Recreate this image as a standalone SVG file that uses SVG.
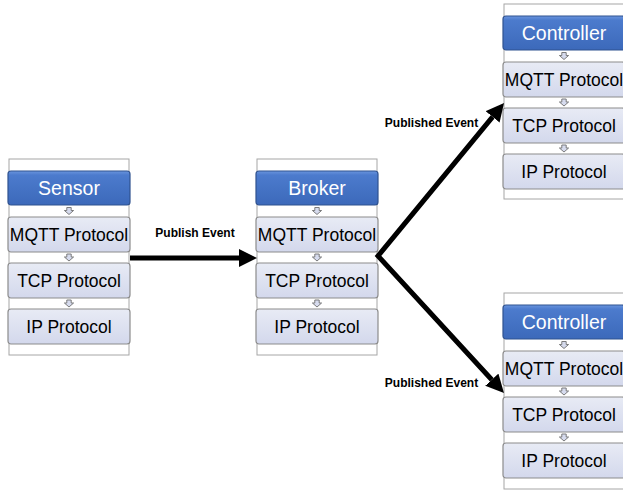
<svg xmlns="http://www.w3.org/2000/svg" width="623" height="492" viewBox="0 0 623 492">
<defs>
<linearGradient id="gBlue" x1="0" y1="0" x2="0" y2="1">
<stop offset="0" stop-color="#6A95DE"/>
<stop offset="0.12" stop-color="#4C7BCD"/>
<stop offset="1" stop-color="#3C69BA"/>
</linearGradient>
<linearGradient id="gLight" x1="0" y1="0" x2="0" y2="1">
<stop offset="0" stop-color="#E8EBF5"/>
<stop offset="1" stop-color="#D3D8EC"/>
</linearGradient>
<path id="mini" d="M-2.2,0 h4.4 v3 h2.4 l-4.6,4 l-4.6,-4 h2.4 z" fill="#D6DBEE" stroke="#6F6F6F" stroke-width="0.9"/>
<marker id="head" viewBox="0 0 10 10" refX="0" refY="5" markerWidth="3.6" markerHeight="3.6" markerUnits="strokeWidth" orient="auto-start-reverse">
<path d="M0,0 L10,5 L0,10 z" fill="#000"/>
</marker>
</defs>
<style>
.frame{fill:#FFFFFF;stroke:#A6A6A6;stroke-width:1}
.title{fill:url(#gBlue);stroke:#2F528F;stroke-width:1.2}
.proto{fill:url(#gLight);stroke:#8C8C8C;stroke-width:1.2}
.tt{font-family:"Liberation Sans",Arial,sans-serif;font-size:19.5px;fill:#FFFFFF;text-anchor:middle}
.pt{font-family:"Liberation Sans",Arial,sans-serif;font-size:17.5px;fill:#000;text-anchor:middle}
.lbl{font-family:"Liberation Sans",Arial,sans-serif;font-size:12px;font-weight:bold;fill:#000;text-anchor:middle}
.conn{fill:none;stroke:#000;stroke-width:5;stroke-linejoin:miter;stroke-miterlimit:10}
</style>

<g id="sensor" transform="translate(8,159)">
<rect class="frame" x="1" y="0" width="120" height="196"/>
<rect class="title" x="0" y="12" width="122" height="34" rx="3"/>
<text class="tt" x="61" y="36">Sensor</text>
<use href="#mini" x="61" y="48.5"/>
<rect class="proto" x="0" y="58" width="122" height="35" rx="3"/>
<text class="pt" x="61" y="81.5">MQTT Protocol</text>
<use href="#mini" x="61" y="95"/>
<rect class="proto" x="0" y="104" width="122" height="35" rx="3"/>
<text class="pt" x="61" y="127.5">TCP Protocol</text>
<use href="#mini" x="61" y="141"/>
<rect class="proto" x="0" y="150" width="122" height="35" rx="3"/>
<text class="pt" x="61" y="173.5">IP Protocol</text>
</g>

<g id="broker" transform="translate(256,159)">
<rect class="frame" x="1" y="0" width="120" height="196"/>
<rect class="title" x="0" y="12" width="122" height="34" rx="3"/>
<text class="tt" x="61" y="36">Broker</text>
<use href="#mini" x="61" y="48.5"/>
<rect class="proto" x="0" y="58" width="122" height="35" rx="3"/>
<text class="pt" x="61" y="81.5">MQTT Protocol</text>
<use href="#mini" x="61" y="95"/>
<rect class="proto" x="0" y="104" width="122" height="35" rx="3"/>
<text class="pt" x="61" y="127.5">TCP Protocol</text>
<use href="#mini" x="61" y="141"/>
<rect class="proto" x="0" y="150" width="122" height="35" rx="3"/>
<text class="pt" x="61" y="173.5">IP Protocol</text>
</g>

<g id="controller-top" transform="translate(503,4)">
<rect class="frame" x="1" y="0" width="120" height="195"/>
<rect class="title" x="0" y="12" width="122" height="34" rx="3"/>
<text class="tt" x="61" y="36">Controller</text>
<use href="#mini" x="61" y="48.5"/>
<rect class="proto" x="0" y="58" width="122" height="35" rx="3"/>
<text class="pt" x="61" y="81.5">MQTT Protocol</text>
<use href="#mini" x="61" y="95"/>
<rect class="proto" x="0" y="104" width="122" height="35" rx="3"/>
<text class="pt" x="61" y="127.5">TCP Protocol</text>
<use href="#mini" x="61" y="141"/>
<rect class="proto" x="0" y="150" width="122" height="35" rx="3"/>
<text class="pt" x="61" y="173.5">IP Protocol</text>
</g>

<g id="controller-bottom" transform="translate(503,293)">
<rect class="frame" x="1" y="0" width="120" height="196"/>
<rect class="title" x="0" y="12" width="122" height="34" rx="3"/>
<text class="tt" x="61" y="36">Controller</text>
<use href="#mini" x="61" y="48.5"/>
<rect class="proto" x="0" y="58" width="122" height="35" rx="3"/>
<text class="pt" x="61" y="81.5">MQTT Protocol</text>
<use href="#mini" x="61" y="95"/>
<rect class="proto" x="0" y="104" width="122" height="35" rx="3"/>
<text class="pt" x="61" y="127.5">TCP Protocol</text>
<use href="#mini" x="61" y="141"/>
<rect class="proto" x="0" y="150" width="122" height="35" rx="3"/>
<text class="pt" x="61" y="173.5">IP Protocol</text>
</g>

<g id="connectors">
<path class="conn" d="M130,258 L239,258" marker-end="url(#head)"/>
<path class="conn" d="M492.6,116.9 L378,256 L491.8,379.7" marker-start="url(#head)" marker-end="url(#head)"/>
<text class="lbl" x="195" y="237">Publish Event</text>
<text class="lbl" x="431.5" y="127">Published Event</text>
<text class="lbl" x="431.5" y="387">Published Event</text>
</g>
</svg>
